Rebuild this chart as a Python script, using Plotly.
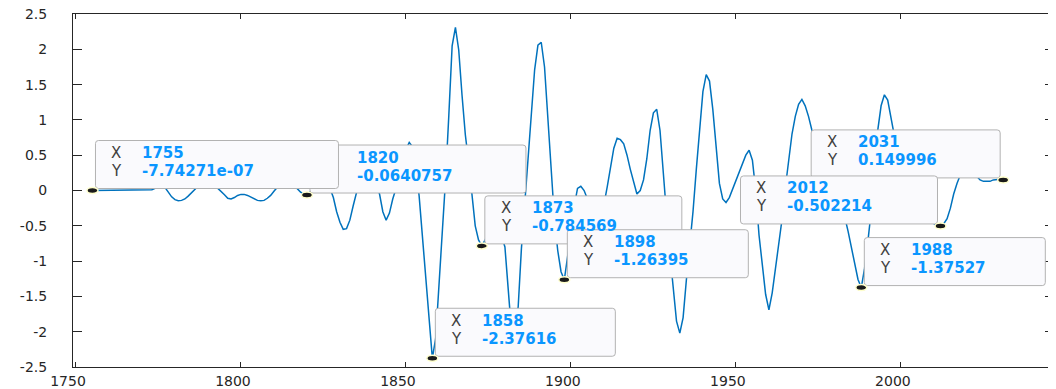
import plotly.graph_objects as go

# ---------------- data ----------------
years = list(range(1755, 2032))
values = [
    # 1755-1774
    -7.74271e-07, 0.0, 0.0, 0.0, 0.0, 0.0, 0.0, 0.0, 0.0, 0.0,
    0.0, 0.0, 0.0, 0.0, 0.0, 0.0, 0.0, 0.0, 0.01, 0.03,
    # 1775-1794
    0.05, 0.06, 0.04, -0.02, -0.09, -0.13, -0.145, -0.14, -0.12, -0.08,
    -0.03, 0.02, 0.06, 0.10, 0.12, 0.12, 0.10, 0.07, 0.03, -0.01,
    # 1795-1814
    -0.06, -0.11, -0.12, -0.10, -0.07, -0.055, -0.055, -0.07, -0.09, -0.12,
    -0.14, -0.145, -0.14, -0.11, -0.07, -0.01, 0.05, 0.10, 0.13, 0.14,
    # 1815-1834
    0.12, 0.08, 0.03, -0.02, -0.055, -0.0640757, -0.02, 0.08, 0.16, 0.20,
    0.19, 0.13, 0.03, -0.10, -0.30, -0.45, -0.55, -0.54, -0.42, -0.22,
    # 1835-1854
    -0.02, 0.15, 0.28, 0.33, 0.30, 0.20, 0.07, -0.05, -0.30, -0.42,
    -0.32, -0.12, 0.03, 0.20, 0.40, 0.58, 0.68, 0.62, 0.35, -0.08,
    # 1855-1874
    -0.67, -1.28, -1.88, -2.37616, -2.10, -1.40, -0.63, 0.15, 1.07, 2.05,
    2.31, 1.99, 1.35, 0.79, 0.40, -0.05, -0.50, -0.70, -0.784569, -0.70,
    # 1875-1894
    -0.60, -0.52, -0.50, -0.55, -0.65, -0.80, -1.40, -2.00, -2.10, -1.66,
    -0.82, -0.19, 0.45, 1.08, 1.71, 2.06, 2.10, 1.75, 1.05, 0.20,
    # 1895-1914
    -0.40, -0.85, -1.15, -1.26395, -0.95, -0.60, -0.22, 0.03, 0.06, 0.0,
    -0.12, -0.27, -0.38, -0.40, -0.33, -0.20, 0.05, 0.35, 0.60, 0.74,
    # 1915-1934
    0.72, 0.66, 0.50, 0.30, 0.12, -0.05, 0.0, 0.15, 0.45, 0.85,
    1.10, 1.15, 0.85, 0.20, -0.35, -0.90, -1.40, -1.85, -2.02, -1.80,
    # 1935-1954
    -1.26, -0.80, -0.30, 0.30, 0.85, 1.40, 1.64, 1.55, 1.15, 0.60,
    0.10, -0.12, -0.17, -0.10, 0.02, 0.14, 0.26, 0.38, 0.50, 0.57,
    # 1955-1974
    0.43, 0.0, -0.63, -1.05, -1.47, -1.69, -1.45, -1.10, -0.75, -0.40,
    0.05, 0.45, 0.80, 1.05, 1.22, 1.29, 1.20, 1.05, 0.86, 0.72,
    # 1975-1994
    0.58, 0.45, 0.32, 0.20, 0.08, -0.04, -0.15, -0.26, -0.38, -0.58,
    -0.82, -1.04, -1.26, -1.37527, -1.10, -0.72, -0.29, 0.26, 0.86, 1.20,
    # 1995-2014
    1.355, 1.28, 1.05, 0.78, 0.52, 0.30, 0.15, 0.04, -0.05, -0.13,
    -0.20, -0.27, -0.33, -0.38, -0.43, -0.47, -0.50, -0.502214, -0.47, -0.40,
    # 2015-2031
    -0.25, -0.05, 0.10, 0.22, 0.30, 0.32, 0.30, 0.25, 0.19, 0.15,
    0.13, 0.125, 0.13, 0.15, 0.16, 0.16, 0.149996,
]

tip_years = [1755, 1820, 1858, 1873, 1898, 1988, 2012, 2031]
tip_values = [-7.74271e-07, -0.0640757, -2.37616, -0.784569,
              -1.26395, -1.37527, -0.502214, 0.149996]

x_tick_vals = [1750, 1800, 1850, 1900, 1950, 2000]
x_tick_text = ["1750", "1800", "1850", "1900", "1950", "2000"]
y_tick_vals = [-2.5, -2, -1.5, -1, -0.5, 0, 0.5, 1, 1.5, 2, 2.5]
y_tick_text = ["-2.5", "-2", "-1.5", "-1", "-0.5", "0", "0.5", "1", "1.5", "2", "2.5"]

# ---------------- style ----------------
LINE_COLOR = "#0072BD"
AXIS_COLOR = "#262626"
TIP_VALUE_COLOR = "#0A96FF"
TIP_LABEL_COLOR = "#404040"
BOX_FILL = "rgb(250,250,253)"
BOX_EDGE = "rgb(178,178,178)"
FONT = "DejaVu Sans"

box_width = [243, 216, 180, 197, 181, 181, 197, 189]
box_side = ["right", "right", "right", "right", "right", "right", "left", "left"]
labels_hidden = [False, True, False, False, False, False, False, False]
draw_order = [1, 0, 2, 3, 4, 5, 7, 6]
BOX_BOTTOM = 2
BOX_HEIGHT = 48
ROW1 = 37.5
ROW2 = 19.5

# the page body has an 8px default margin; size the figure to fill the window
PAGE_OFFSET = 8
FIG_W = 1056 - PAGE_OFFSET
FIG_H = 389 - PAGE_OFFSET


def round_rect(L, R, B, T, r=3):
    return (f"M {L + r},{B} L {R - r},{B} Q {R},{B} {R},{B + r} "
            f"L {R},{T - r} Q {R},{T} {R - r},{T} L {L + r},{T} "
            f"Q {L},{T} {L},{T - r} L {L},{B + r} Q {L},{B} {L + r},{B} Z")


fig = go.Figure()
fig.add_trace(go.Scatter(
    x=years, y=values, mode="lines",
    line=dict(color=LINE_COLOR, width=1.5),
    hoverinfo="skip", showlegend=False,
))

shapes = []
annotations = []
for i in draw_order:
    tx, ty = tip_years[i], tip_values[i]
    w = box_width[i]
    if box_side[i] == "right":
        L = 3
    else:
        L = -3 - w
    R = L + w
    B = BOX_BOTTOM
    T = BOX_BOTTOM + BOX_HEIGHT
    shapes.append(dict(
        type="path", xref="x", yref="y",
        xsizemode="pixel", ysizemode="pixel",
        xanchor=tx, yanchor=ty,
        path=round_rect(L, R, B, T),
        fillcolor=BOX_FILL, line=dict(color=BOX_EDGE, width=1),
        layer="above",
    ))
    for lab, val, dy in (("X", f"{tx:d}", ROW1), ("Y", f"{ty:.6g}", ROW2)):
        if not labels_hidden[i]:
            annotations.append(dict(
                x=tx, y=ty, xref="x", yref="y", showarrow=False,
                xanchor="left", yanchor="middle",
                xshift=L + 14, yshift=dy,
                text=lab, font=dict(family=FONT, size=15, color=TIP_LABEL_COLOR),
            ))
        annotations.append(dict(
            x=tx, y=ty, xref="x", yref="y", showarrow=False,
            xanchor="left", yanchor="middle",
            xshift=L + 45, yshift=dy,
            text=f"<b>{val}</b>",
            font=dict(family=FONT, size=15, color=TIP_VALUE_COLOR),
        ))

for tx, ty in zip(tip_years, tip_values):
    shapes.append(dict(
        type="circle", xref="x", yref="y",
        xsizemode="pixel", ysizemode="pixel",
        xanchor=tx, yanchor=ty,
        x0=-5.5, x1=5.5, y0=-3, y1=3,
        fillcolor="#1a1a1a", line=dict(color="#FFFFCC", width=1.5),
        layer="above",
    ))

fig.update_layout(
    width=FIG_W, height=FIG_H,
    margin=dict(l=73 - PAGE_OFFSET, r=2, t=14 - PAGE_OFFSET, b=22),
    paper_bgcolor="white", plot_bgcolor="white",
    shapes=shapes, annotations=annotations,
    showlegend=False,
    font=dict(family=FONT, size=13, color=AXIS_COLOR),
)
fig.update_xaxes(
    range=[1749.1, 2046.4], automargin=False,
    tickmode="array", tickvals=x_tick_vals, ticktext=x_tick_text,
    ticks="inside", ticklen=5, tickwidth=1, tickcolor=AXIS_COLOR,
    showline=True, linecolor=AXIS_COLOR, linewidth=1, mirror="ticks",
    showgrid=False, zeroline=False,
    tickfont=dict(family=FONT, size=14, color=AXIS_COLOR),
    ticklabelstandoff=1, ticklabelshift=-8, ticklabeloverflow="allow",
)
fig.update_yaxes(
    range=[-2.5001, 2.5001], automargin=False,
    tickmode="array", tickvals=y_tick_vals, ticktext=y_tick_text,
    ticks="inside", ticklen=9, tickwidth=1, tickcolor=AXIS_COLOR,
    showline=True, linecolor=AXIS_COLOR, linewidth=1, mirror="ticks",
    showgrid=False, zeroline=False,
    tickfont=dict(family=FONT, size=14, color=AXIS_COLOR),
    ticklabelstandoff=22, ticklabeloverflow="allow",
)

fig.write_html("out.html")
